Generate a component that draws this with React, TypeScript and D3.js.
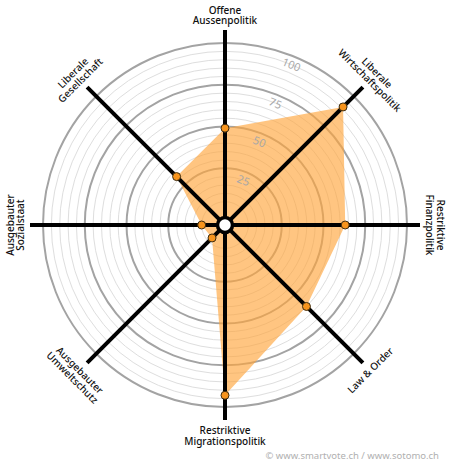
import React from "react";
import * as d3 from "d3";

const axisLabels: string[][] = [
  ["Offene", "Aussenpolitik"],
  ["Liberale", "Wirtschaftspolitik"],
  ["Restriktive", "Finanzpolitik"],
  ["Law & Order"],
  ["Restriktive", "Migrationspolitik"],
  ["Ausgebauter", "Umweltschutz"],
  ["Ausgebauter", "Sozialstaat"],
  ["Liberale", "Gesellschaft"],
];
const values: number[] = [49, 91, 63, 60, 93, 2, 5, 32];
const ringTicks: number[] = [25, 50, 75, 100];
const minorTicks: number[] = d3.range(5, 100, 5).filter((v) => v % 25 !== 0);
const footer = "© www.smartvote.ch / www.sotomo.ch";

const W = 450;
const H = 470;
const cx = 225;
const cy = 225;

export default function App() {
  const r = d3.scaleLinear().domain([0, 100]).range([15, 182]);
  const angle = d3
    .scaleLinear()
    .domain([0, axisLabels.length])
    .range([0, 2 * Math.PI]);
  const pt = (a: number, rad: number): [number, number] => [
    cx + rad * Math.sin(a),
    cy - rad * Math.cos(a),
  ];
  const poly = values.map((v, i) => pt(angle(i), r(v)));
  const line = d3.line<[number, number]>().curve(d3.curveLinearClosed);
  const spokeLen = 195;
  const font = "'Noto Sans', 'Open Sans', sans-serif";

  return (
    <svg
      width={W}
      height={H}
      style={{ position: "absolute", left: 0, top: 0 }}
    >
      <rect width={W} height={H} fill="#fff" />
      {minorTicks.map((t) => (
        <circle key={"m" + t} cx={cx} cy={cy} r={r(t)} fill="none" stroke="#dedede" strokeWidth={1} />
      ))}
      {ringTicks.map((t) => (
        <circle key={"t" + t} cx={cx} cy={cy} r={r(t)} fill="none" stroke="#a3a3a3" strokeWidth={2} />
      ))}
      <path d={line(poly) || ""} fill="#ffa53a" fillOpacity={0.64} stroke="none" />
      {ringTicks.map((t) => {
        const a = Math.PI / 8;
        const [x, y] = pt(a, r(t) - 8);
        return (
          <text
            key={"l" + t}
            x={x}
            y={y}
            transform={`rotate(22.5 ${x} ${y})`}
            textAnchor="middle"
            dominantBaseline="central"
            fontFamily={font}
            fontSize={11}
            fill="#a8a8a8"
          >
            {t}
          </text>
        );
      })}
      {axisLabels.map((_, i) => {
        const [x1, y1] = pt(angle(i), 8);
        const [x2, y2] = pt(angle(i), spokeLen);
        return <line key={"s" + i} x1={x1} y1={y1} x2={x2} y2={y2} stroke="#000" strokeWidth={4} />;
      })}
      {poly.map(([x, y], i) => (
        <circle key={"d" + i} cx={x} cy={y} r={4} fill="#f7941d" stroke="#3a2a10" strokeWidth={1} />
      ))}
      <circle cx={cx} cy={cy} r={7.5} fill="#fff" stroke="#000" strokeWidth={3.5} />
      {axisLabels.map((lines, i) => {
        const deg = (i * 360) / axisLabels.length;
        let rot = deg;
        if (deg > 90 && deg < 270) rot = deg - 180;
        else if (deg >= 270) rot = deg - 360;
        const upper = deg <= 90 || deg >= 270;
        const n = lines.length;
        return lines.map((txt, j) => {
          const k = upper ? n - 1 - j : j;
          const rad = 205 + k * 10.5;
          const [x, y] = pt(angle(i), rad);
          return (
            <text
              key={"a" + i + "-" + j}
              x={x}
              y={y}
              transform={`rotate(${rot} ${x} ${y})`}
              textAnchor="middle"
              dominantBaseline="central"
              fontFamily={font}
              fontSize={10}
              fontWeight={500}
              fill="#111"
            >
              {txt}
            </text>
          );
        });
      })}
      <text
        x={439}
        y={455}
        textAnchor="end"
        dominantBaseline="central"
        fontFamily={font}
        fontSize={9.5}
        fill="#b0b0b0"
      >
        {footer}
      </text>
    </svg>
  );
}
